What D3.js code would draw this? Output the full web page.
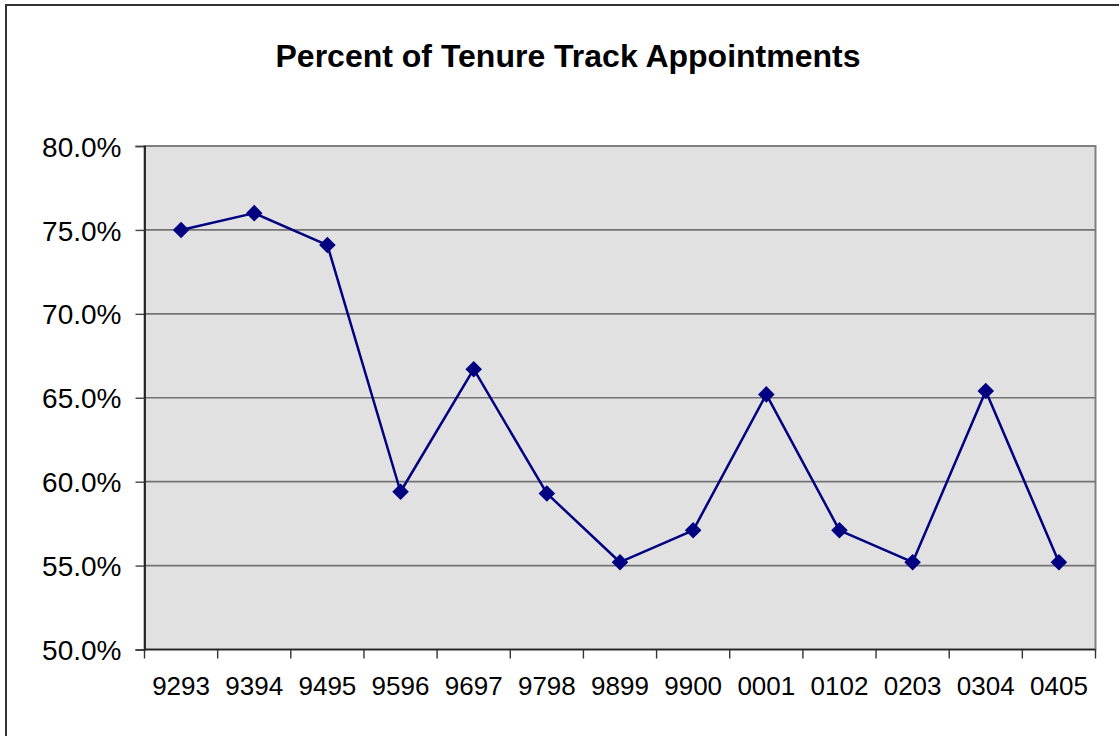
<!DOCTYPE html>
<html>
<head>
<meta charset="utf-8">
<script src="https://cdn.jsdelivr.net/npm/d3@7"></script>
<style>
  html, body { margin: 0; padding: 0; background: #fff; }
  svg { display: block; font-family: "Liberation Sans", Arial, sans-serif; }
</style>
</head>
<body>
<svg id="chart" width="1119" height="736"></svg>
<script>
// Academic years (e.g. 9293 = 1992-93)
const years = ["9293", "9394", "9495", "9596", "9697", "9798", "9899", "9900", "0001", "0102", "0203", "0304", "0405"];
// Share of appointments that were tenure track, in percent
const tenureTrackPct = [75.0, 76.0, 74.1, 59.4, 66.7, 59.3, 55.2, 57.1, 65.2, 57.1, 55.2, 65.4, 55.2];
// Value axis ticks, in percent
const yTicks = [50, 55, 60, 65, 70, 75, 80];
const chartTitle = "Percent of Tenure Track Appointments";

const svg = d3.select("#chart");
const plot = { left: 144.5, top: 146, right: 1095.5, bottom: 649.5 };

// Outer chart frame
svg.append("rect")
  .attr("x", 6).attr("y", 5)
  .attr("width", 1140).attr("height", 760)
  .attr("fill", "#fff").attr("stroke", "#333").attr("stroke-width", 2);

const x = d3.scaleBand().domain(years).range([plot.left, plot.right]).padding(0);
const y = d3.scaleLinear().domain([50, 80]).range([plot.bottom, plot.top]);

// Plot area background
svg.append("rect")
  .attr("x", plot.left).attr("y", plot.top)
  .attr("width", plot.right - plot.left).attr("height", plot.bottom - plot.top)
  .attr("fill", "#e1e1e1").attr("stroke", "#808080").attr("stroke-width", 2);

// Horizontal gridlines
svg.append("g")
  .selectAll("line")
  .data(yTicks.filter(t => t > 50 && t < 80))
  .join("line")
  .attr("x1", plot.left).attr("x2", plot.right)
  .attr("y1", d => y(d)).attr("y2", d => y(d))
  .attr("stroke", "#737373").attr("stroke-width", 1.6);

// Value axis
const yAxis = svg.append("g")
  .attr("transform", `translate(${plot.left},0)`)
  .call(d3.axisLeft(y).tickValues(yTicks).tickSize(9).tickPadding(14)
    .tickFormat(d => d.toFixed(1) + "%"));
yAxis.select(".domain").attr("stroke", "#111").attr("stroke-width", 1.6);
yAxis.selectAll(".tick line").attr("stroke", "#444").attr("stroke-width", 1.4);
yAxis.selectAll(".tick text")
  .attr("fill", "#000").attr("font-size", 28)
  .attr("font-family", "'Liberation Sans', Arial, sans-serif")
  .attr("dy", "0.36em");

// Category axis
const xAxis = svg.append("g")
  .attr("transform", `translate(0,${plot.bottom})`)
  .call(d3.axisBottom(x).tickSize(0).tickPadding(27));
xAxis.select(".domain").remove();
xAxis.selectAll(".tick text")
  .attr("fill", "#000").attr("font-size", 26)
  .attr("font-family", "'Liberation Sans', Arial, sans-serif")
  .attr("dy", "0.71em");
svg.append("line")
  .attr("x1", plot.left).attr("x2", plot.right)
  .attr("y1", plot.bottom).attr("y2", plot.bottom)
  .attr("stroke", "#222").attr("stroke-width", 1.6);
// Tick marks between categories
svg.append("g")
  .selectAll("line")
  .data(years.map(d => x(d)).concat([x(years[years.length - 1]) + x.bandwidth()]))
  .join("line")
  .attr("x1", d => d).attr("x2", d => d)
  .attr("y1", plot.bottom).attr("y2", plot.bottom + 9)
  .attr("stroke", "#333").attr("stroke-width", 1.4);

// Series line
const cx = d => x(d) + x.bandwidth() / 2;
svg.append("path")
  .datum(tenureTrackPct)
  .attr("fill", "none")
  .attr("stroke", "#000080")
  .attr("stroke-width", 2.5)
  .attr("stroke-linejoin", "round")
  .attr("d", d3.line().x((d, i) => cx(years[i])).y(d => y(d)));

// Diamond markers
svg.append("g")
  .selectAll("path")
  .data(tenureTrackPct)
  .join("path")
  .attr("transform", (d, i) => `translate(${cx(years[i])},${y(d)})`)
  .attr("d", d3.symbol().type(d3.symbolDiamond2).size(175))
  .attr("fill", "#000080");

// Title
svg.append("text")
  .attr("x", 568).attr("y", 67)
  .attr("text-anchor", "middle")
  .attr("font-size", 32).attr("font-weight", "bold")
  .attr("fill", "#000")
  .text(chartTitle);
</script>
</body>
</html>
